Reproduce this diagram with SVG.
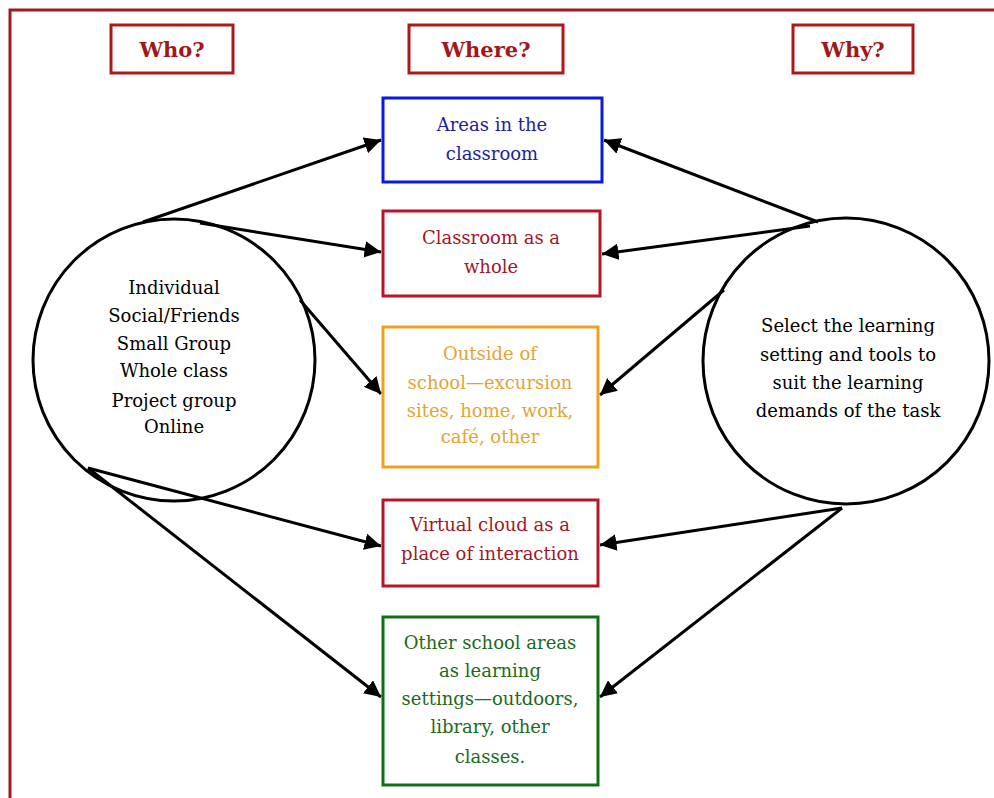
<svg xmlns="http://www.w3.org/2000/svg" width="994" height="798" viewBox="0 0 994 798">
<defs>
<marker id="ah" viewBox="0 0 10 10" refX="10" refY="5" markerWidth="5.5" markerHeight="5.5" orient="auto" markerUnits="strokeWidth">
<path d="M0,0 L10,5 L0,10 z" fill="#000"/>
</marker>
<style>
.t{font-family:"DejaVu Serif","Liberation Serif",serif;font-size:18px;text-anchor:middle}
.h{font-family:"DejaVu Serif","Liberation Serif",serif;font-size:21px;font-weight:bold;fill:#A01818;text-anchor:middle}
.hb{fill:#fff;stroke:#A81C1C;stroke-width:3}
.c{fill:none;stroke:#000;stroke-width:3}
.e{fill:none;stroke:#000;stroke-width:3;marker-end:url(#ah)}
</style>
</defs>
<rect width="994" height="798" fill="#fff"/>
<rect x="10" y="10" width="1000" height="800" fill="none" stroke="#A01C1C" stroke-width="3"/>
<g id="who"><rect class="hb" x="111" y="25" width="122" height="48"/><text class="h" x="172" y="57">Who?</text></g>
<g id="where"><rect class="hb" x="409" y="25" width="154" height="48"/><text class="h" x="486" y="57">Where?</text></g>
<g id="why"><rect class="hb" x="793" y="25" width="120" height="48"/><text class="h" x="853" y="57">Why?</text></g>
<g id="connectors">
<line class="e" x1="143" y1="222" x2="381" y2="140"/>
<line class="e" x1="200" y1="223" x2="381" y2="252"/>
<line class="e" x1="300" y1="300" x2="381" y2="394"/>
<line class="e" x1="88" y1="468" x2="381" y2="546"/>
<line class="e" x1="88" y1="468" x2="381" y2="697"/>
<line class="e" x1="818" y1="222" x2="604" y2="140"/>
<line class="e" x1="810" y1="226" x2="602" y2="254"/>
<line class="e" x1="724" y1="290" x2="600" y2="395"/>
<line class="e" x1="842" y1="508" x2="600" y2="545"/>
<line class="e" x1="842" y1="508" x2="600" y2="697"/>
</g>
<g id="who-circle"><circle class="c" cx="174" cy="360" r="141"/>
<text class="t" fill="#000"><tspan x="174" y="294">Individual</tspan><tspan x="174" y="322">Social/Friends</tspan><tspan x="174" y="350">Small Group</tspan><tspan x="174" y="377">Whole class</tspan><tspan x="174" y="407">Project group</tspan><tspan x="174" y="433">Online</tspan></text></g>
<g id="why-circle"><circle class="c" cx="846" cy="361" r="143"/>
<text class="t" fill="#000"><tspan x="848" y="332">Select the learning</tspan><tspan x="848" y="361">setting and tools to</tspan><tspan x="848" y="389">suit the learning</tspan><tspan x="848" y="417">demands of the task</tspan></text></g>
<g id="areas"><rect x="383" y="98" width="219" height="84" fill="#fff" stroke="#0A1AE0" stroke-width="3"/>
<text class="t" fill="#1E1E9A"><tspan x="492" y="131">Areas in the</tspan><tspan x="492" y="160">classroom</tspan></text></g>
<g id="classroom"><rect x="383" y="211" width="217" height="85" fill="#fff" stroke="#B81426" stroke-width="3"/>
<text class="t" fill="#A01828"><tspan x="491" y="244">Classroom as a</tspan><tspan x="491" y="273">whole</tspan></text></g>
<g id="outside"><rect x="383" y="327" width="215" height="140" fill="#fff" stroke="#F2A01C" stroke-width="3"/>
<text class="t" fill="#E2A438"><tspan x="490" y="360">Outside of</tspan><tspan x="490" y="389">school—excursion</tspan><tspan x="490" y="417">sites, home, work,</tspan><tspan x="490" y="443">café, other</tspan></text></g>
<g id="virtual"><rect x="383" y="500" width="215" height="86" fill="#fff" stroke="#B81426" stroke-width="3"/>
<text class="t" fill="#A01828"><tspan x="490" y="531">Virtual cloud as a</tspan><tspan x="490" y="560">place of interaction</tspan></text></g>
<g id="other"><rect x="383" y="617" width="215" height="168" fill="#fff" stroke="#106E14" stroke-width="3"/>
<text class="t" fill="#1C6A1C"><tspan x="490" y="649">Other school areas</tspan><tspan x="490" y="677">as learning</tspan><tspan x="490" y="705">settings—outdoors,</tspan><tspan x="490" y="733">library, other</tspan><tspan x="490" y="763">classes.</tspan></text></g>
</svg>
